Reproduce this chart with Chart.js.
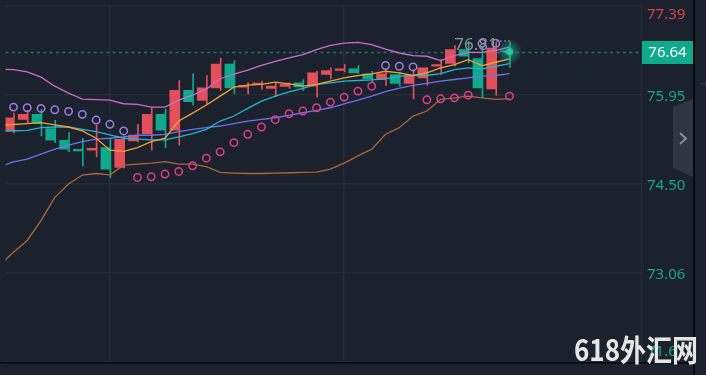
<!DOCTYPE html>
<html>
<head>
<meta charset="utf-8">
<script src="https://cdn.jsdelivr.net/npm/chart.js@4/dist/chart.umd.min.js"></script>
<style>
  html, body { margin: 0; padding: 0; background: #1b212d; }
  #wrap { width: 706px; height: 375px; }
</style>
</head>
<body>
<div id="wrap"><canvas id="chart" width="706" height="375"></canvas></div>
<script>
// candles, index 0..36 (red = up, teal = down)
var opens = [
  75.356, 75.545, 75.625, 75.393, 75.206, 75.060, 75.044, 75.086, 74.763, 75.194,
  75.312, 75.625, 75.367, 76.013, 75.851, 76.055, 76.442, 76.066, 76.107, 76.045,
  76.077, 76.136, 76.082, 76.271, 76.336, 76.362, 76.281, 76.190, 76.271, 76.126,
  76.216, 76.405, 76.449, 76.675, 76.530, 76.039, 76.650
];
var highs = [
  75.646, 75.690, 75.706, 75.529, 75.328, 75.238, 75.453, 75.238, 75.275, 75.464,
  75.732, 75.706, 76.174, 76.281, 76.255, 76.539, 76.497, 76.136, 76.163, 76.136,
  76.136, 76.190, 76.324, 76.378, 76.433, 76.421, 76.324, 76.352, 76.308, 76.352,
  76.378, 76.513, 76.739, 76.810, 76.717, 76.790, 76.800
];
var lows = [
  75.323, 75.490, 75.275, 75.167, 75.022, 74.791, 74.936, 74.602, 74.758, 75.178,
  75.044, 75.086, 75.125, 75.776, 75.787, 76.013, 75.958, 75.958, 76.029, 75.910,
  76.045, 76.013, 75.905, 76.200, 76.313, 76.297, 76.152, 76.094, 76.082, 75.877,
  76.094, 76.271, 76.405, 76.458, 75.893, 75.932, 76.380
];
var closes = [
  75.570, 75.625, 75.474, 75.206, 75.060, 75.033, 75.076, 74.737, 75.222, 75.291,
  75.625, 75.367, 76.013, 75.829, 76.055, 76.442, 76.055, 76.094, 76.131, 76.082,
  76.110, 76.071, 76.297, 76.336, 76.362, 76.297, 76.200, 76.281, 76.126, 76.255,
  76.378, 76.433, 76.675, 76.567, 76.055, 76.701, 76.640
];
// parabolic SAR, index 0..36
var sarVals = [
  75.743, 75.732, 75.722, 75.700, 75.674, 75.625, 75.533, 75.464, 75.356,
  74.602, 74.613, 74.657, 74.699, 74.791, 74.915, 75.017, 75.167, 75.302, 75.420,
  75.538, 75.635, 75.679, 75.732, 75.824, 75.905, 76.002, 76.082,
  76.417, 76.405, 76.394,
  75.861, 75.877, 75.893, 75.937,
  76.777, 76.777,
  75.921
];
// indicator lines start one bar earlier, index -1..36
var bollUpper = [
  76.357, 76.349, 76.313, 76.228, 76.082, 75.969, 75.872, 75.864, 75.856, 75.797,
  75.787, 75.743, 75.743, 75.856, 75.937, 76.034, 76.203, 76.276, 76.341, 76.421,
  76.486, 76.539, 76.594, 76.675, 76.744, 76.781, 76.793, 76.756, 76.684, 76.620,
  76.578, 76.567, 76.497, 76.578, 76.631, 76.631, 76.663, 76.717
];
var bollLower = [
  73.176, 73.391, 73.580, 73.903, 74.279, 74.495, 74.641, 74.666, 74.645, 74.802,
  74.818, 74.834, 74.860, 74.818, 74.818, 74.779, 74.683, 74.673, 74.666, 74.666,
  74.673, 74.678, 74.683, 74.689, 74.737, 74.834, 74.952, 75.060, 75.302, 75.409,
  75.598, 75.679, 75.868, 75.893, 75.921, 75.893, 75.868, 75.877
];
var maFast = [
  75.445, 75.461, 75.474, 75.490, 75.453, 75.420, 75.356, 75.238, 75.044, 75.025,
  75.086, 75.183, 75.238, 75.517, 75.646, 75.776, 75.921, 76.066, 76.098, 76.110,
  76.147, 76.119, 76.082, 76.110, 76.163, 76.216, 76.255, 76.281, 76.324, 76.297,
  76.255, 76.297, 76.378, 76.433, 76.513, 76.417, 76.470, 76.523
];
var maMid = [
  75.348, 75.359, 75.367, 75.409, 75.420, 75.420, 75.383, 75.344, 75.291, 75.238,
  75.222, 75.210, 75.210, 75.259, 75.312, 75.383, 75.517, 75.598, 75.722, 75.840,
  75.921, 75.990, 76.045, 76.110, 76.136, 76.163, 76.174, 76.184, 76.200, 76.244,
  76.255, 76.255, 76.287, 76.352, 76.378, 76.362, 76.405, 76.449
];
var maSlow = [
  74.775, 74.855, 74.899, 74.980, 75.060, 75.125, 75.183, 75.222, 75.238, 75.259,
  75.286, 75.286, 75.302, 75.344, 75.383, 75.409, 75.436, 75.474, 75.517, 75.545,
  75.570, 75.609, 75.651, 75.690, 75.732, 75.797, 75.856, 75.921, 75.993, 76.050,
  76.094, 76.126, 76.163, 76.190, 76.216, 76.244, 76.255, 76.287
];
var yTicks = [71.61, 73.06, 74.50, 75.95, 77.39];
var xGridAt = [7, 24];
var lastPrice = 76.64;
var highLabel = '76.81';

var UP = '#e2505a', DOWN = '#10a98b';

function candleColor(ctx) {
  var i = ctx.dataIndex;
  return closes[i] >= opens[i] ? UP : DOWN;
}
function lineSet(arr, color) {
  return {
    type: 'line',
    data: arr.map(function (v, i) { return { x: i - 1, y: v }; }),
    borderColor: color,
    borderWidth: 1.3,
    pointRadius: 0,
    tension: 0,
    order: 1
  };
}

var extras = {
  id: 'extras',
  beforeDraw: function (chart) {
    var ctx = chart.ctx;
    ctx.save();
    ctx.fillStyle = '#1b212d';
    ctx.fillRect(0, 0, chart.width, chart.height);
    ctx.restore();
  },
  beforeDatasetsDraw: function (chart) {
    var ctx = chart.ctx, a = chart.chartArea;
    var y = Math.round(chart.scales.y.getPixelForValue(lastPrice)) + 0.5;
    ctx.save();
    ctx.strokeStyle = '#1d7664';
    ctx.lineWidth = 1.3;
    ctx.setLineDash([3, 3.3]);
    ctx.beginPath();
    ctx.moveTo(a.left, y);
    ctx.lineTo(a.right, y);
    ctx.stroke();
    ctx.restore();
  },
  afterDraw: function (chart) {
    var ctx = chart.ctx, a = chart.chartArea;
    var xs = chart.scales.x, ys = chart.scales.y;
    var n = closes.length - 1;
    ctx.save();

    // glow on the live price
    var gx = xs.getPixelForValue(n), gy = ys.getPixelForValue(lastPrice);
    var g = ctx.createRadialGradient(gx, gy, 0, gx, gy, 13);
    g.addColorStop(0, 'rgba(30,210,170,0.75)');
    g.addColorStop(0.35, 'rgba(30,200,160,0.4)');
    g.addColorStop(1, 'rgba(30,200,160,0)');
    ctx.fillStyle = g;
    ctx.beginPath(); ctx.arc(gx, gy, 13, 0, Math.PI * 2); ctx.fill();
    ctx.fillStyle = '#22c7a5';
    ctx.beginPath(); ctx.arc(gx, gy, 3.5, 0, Math.PI * 2); ctx.fill();

    // highest high marker
    var hx = xs.getPixelForValue(33) - 14;
    var hy = ys.getPixelForValue(highs[33]);
    ctx.font = '17px "Noto Sans", sans-serif';
    ctx.fillStyle = '#8b909a';
    ctx.textAlign = 'left';
    ctx.textBaseline = 'alphabetic';
    ctx.fillText(highLabel, hx, hy + 9);
    for (var d = 0; d < 4; d++) {
      ctx.fillRect(hx + 42 + d * 4, hy - 1, 1.5, 1.5);
    }

    // right axis labels
    ctx.font = '15px "Noto Sans", sans-serif';
    ctx.textBaseline = 'middle';
    yTicks.forEach(function (v) {
      var y = ys.getPixelForValue(v) + 2;
      y = Math.max(15, Math.min(352, y));
      ctx.fillStyle = v === yTicks[yTicks.length - 1] ? '#d9434d' : '#16a68a';
      ctx.fillText(v.toFixed(2), a.right + 6, y);
    });

    // last price box
    var py = Math.round(gy);
    ctx.fillStyle = '#0fa98b';
    ctx.fillRect(a.right + 1, py - 11, 51, 23);
    ctx.fillStyle = '#ffffff';
    ctx.textAlign = 'center';
    ctx.fillText(lastPrice.toFixed(2), a.right + 26.5, py + 1);

    // frame
    ctx.fillStyle = '#1c222e';
    ctx.fillRect(695, 0, 11, chart.height);
    ctx.fillStyle = '#2b313d';
    ctx.fillRect(700, 83, 6, 1.5);
    ctx.fillStyle = '#05070a';
    ctx.fillRect(0, a.bottom, 694, 1.5);
    ctx.fillRect(693, 0, 2, chart.height);

    // side tab
    ctx.fillStyle = '#30363f';
    ctx.beginPath();
    ctx.moveTo(673, 107); ctx.lineTo(693, 99);
    ctx.lineTo(693, 177); ctx.lineTo(673, 168);
    ctx.closePath(); ctx.fill();
    ctx.strokeStyle = '#8d939e';
    ctx.lineWidth = 1.8;
    ctx.beginPath();
    ctx.moveTo(680, 133); ctx.lineTo(686, 138.5); ctx.lineTo(680, 144);
    ctx.stroke();

    // watermark
    var wm = '618外汇网';
    ctx.font = 'bold 30px "Noto Sans CJK SC", sans-serif';
    ctx.textAlign = 'left';
    ctx.textBaseline = 'alphabetic';
    var w = ctx.measureText(wm).width;
    ctx.translate(574, 361);
    ctx.scale(124 / w, 1);
    ctx.fillStyle = '#e6e6e6';
    ctx.fillText(wm, 0, 0);
    ctx.restore();
  }
};

var chart = new Chart(document.getElementById('chart'), {
  type: 'bar',
  data: {
    datasets: [
      lineSet(bollUpper, '#c96fc8'),
      lineSet(maFast, '#f0a033'),
      lineSet(maMid, '#21b6d2'),
      lineSet(maSlow, '#6b73ee'),
      lineSet(bollLower, '#a8683c'),
      {
        type: 'line',
        data: sarVals.map(function (v, i) { return { x: i, y: v }; }),
        showLine: false,
        pointRadius: 3.7,
        pointBorderWidth: 1.5,
        pointBackgroundColor: 'rgba(0,0,0,0)',
        pointBorderColor: function (ctx) {
          var i = ctx.dataIndex;
          return sarVals[i] > closes[i] ? '#9a80e3' : '#e13d8b';
        },
        order: 0
      },
      {
        data: opens.map(function (o, i) { return { x: i, y: [o, closes[i]] }; }),
        backgroundColor: candleColor,
        barThickness: 9,
        minBarLength: 1,
        order: 5
      },
      {
        data: lows.map(function (l, i) { return { x: i, y: [l, highs[i]] }; }),
        backgroundColor: candleColor,
        barThickness: 1,
        order: 6
      }
    ]
  },
  options: {
    responsive: false,
    animation: false,
    devicePixelRatio: 1,
    layout: { padding: { left: 0, right: 0, top: 4, bottom: 13 } },
    plugins: { legend: { display: false }, tooltip: { enabled: false } },
    scales: {
      x: {
        type: 'linear',
        min: -0.576,
        max: 45.54,
        offset: false,
        grid: { color: '#242c39', lineWidth: 1.5, offset: false, drawTicks: false },
        border: { display: false },
        ticks: { display: false },
        afterBuildTicks: function (s) { s.ticks = xGridAt.map(function (v) { return { value: v }; }); },
        afterFit: function (s) { s.height = 0; }
      },
      y: {
        position: 'right',
        min: yTicks[0],
        max: yTicks[yTicks.length - 1],
        grid: { color: '#242c39', lineWidth: 1.5, drawTicks: false },
        border: { display: true, color: '#272f3c' },
        ticks: { display: false },
        afterBuildTicks: function (s) { s.ticks = yTicks.map(function (v) { return { value: v }; }); },
        afterFit: function (s) { s.width = 65; }
      }
    }
  },
  plugins: [extras]
});
</script>
</body>
</html>
